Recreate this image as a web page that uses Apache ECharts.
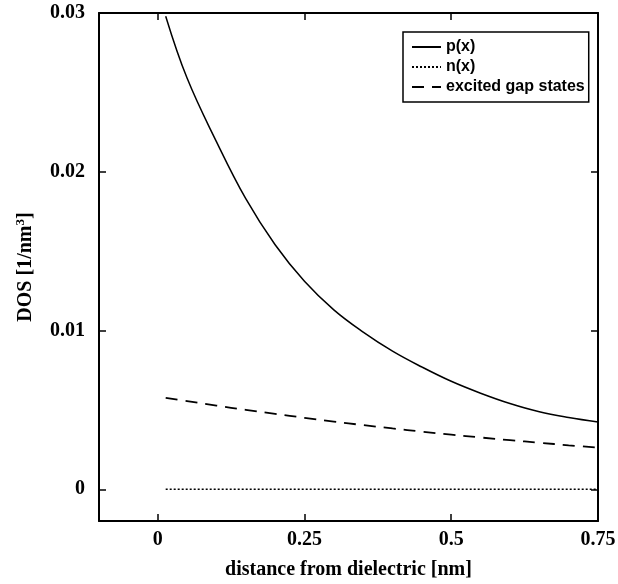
<!DOCTYPE html>
<html>
<head>
<meta charset="utf-8">
<script src="https://cdn.jsdelivr.net/npm/echarts@6/dist/echarts.min.js"></script>
<style>html,body{margin:0;padding:0;background:#fff;}#c{width:618px;height:584px;}</style>
</head>
<body>
<div id="c"></div>
<script>
var xs = [0.0136, 0.05, 0.1, 0.15, 0.2, 0.25, 0.3, 0.35, 0.4, 0.45, 0.5, 0.55, 0.6, 0.65, 0.7, 0.75];
var pVals = [0.0298, 0.0259, 0.0219, 0.0183, 0.0154, 0.0131, 0.0113, 0.0099, 0.0087, 0.0077, 0.0068, 0.00605, 0.0054, 0.00488, 0.00452, 0.00424];
var nVals = [0, 0, 0, 0, 0, 0, 0, 0, 0, 0, 0, 0, 0, 0, 0, 0];
var gapVals = [0.00575, 0.00555, 0.00527, 0.00500, 0.00475, 0.00450, 0.00426, 0.00404, 0.00383, 0.00363, 0.00344, 0.00326, 0.00309, 0.00293, 0.00277, 0.00262];
var seriesNames = ['p(x)', 'n(x)', 'excited gap states'];
var xTicks = [0, 0.25, 0.5, 0.75];
var yTicks = [0, 0.01, 0.02, 0.03];

function pairs(ys) { return xs.map(function (x, i) { return [x, ys[i]]; }); }

var serif = 'Liberation Serif';
var axisLineStyle = { color: '#000', width: 2 };
var chart = echarts.init(document.getElementById('c'), null, { renderer: 'canvas' });
chart.setOption({
  animation: false,
  backgroundColor: '#fff',
  grid: { left: 99, right: 20, top: 13, bottom: 63, containLabel: false, outerBoundsMode: 'none' },
  legend: {
    orient: 'vertical', left: 403, top: 32,
    padding: [7, 4, 7, 8], itemGap: 4, itemWidth: 29, itemHeight: 14,
    borderColor: '#000', borderWidth: 1.5, backgroundColor: '#fff',
    itemStyle: { color: 'rgba(0,0,0,0)', borderWidth: 0, opacity: 0 },
    textStyle: { fontFamily: 'Liberation Sans', fontSize: 16, lineHeight: 16, fontWeight: 'bold', color: '#000' },
    data: seriesNames
  },
  xAxis: [{
    type: 'value', position: 'bottom', min: -0.1, max: 0.75,
    name: 'distance from dielectric [nm]', nameLocation: 'middle', nameGap: 39,
    nameTextStyle: { fontFamily: serif, fontSize: 20, fontWeight: 'bold', color: '#000' },
    axisLine: { show: true, onZero: false, lineStyle: axisLineStyle },
    axisTick: { show: true, inside: true, length: 7, customValues: xTicks, lineStyle: { color: '#000', width: 1.5 } },
    axisLabel: { show: true, customValues: xTicks, margin: 9, fontFamily: serif, fontSize: 20, fontWeight: 'bold', color: '#000' },
    splitLine: { show: false }
  }, {
    type: 'value', position: 'top', min: -0.1, max: 0.75,
    axisLine: { show: true, onZero: false, lineStyle: axisLineStyle },
    axisTick: { show: true, inside: true, length: 7, customValues: xTicks, lineStyle: { color: '#000', width: 1.5 } },
    axisLabel: { show: false },
    splitLine: { show: false }
  }],
  yAxis: [{
    type: 'value', position: 'left', min: -0.002, max: 0.03,
    name: 'DOS [1/nm{sup|3}]', nameLocation: 'middle', nameGap: 62, nameRotate: 90,
    nameTextStyle: { fontFamily: serif, fontSize: 20, fontWeight: 'bold', color: '#000',
      rich: { sup: { fontFamily: serif, fontSize: 13, fontWeight: 'bold', color: '#000', verticalAlign: 'top', padding: [0, 0, 10, 0] } } },
    axisLine: { show: true, onZero: false, lineStyle: axisLineStyle },
    axisTick: { show: true, inside: true, length: 7, customValues: yTicks, lineStyle: { color: '#000', width: 1.5 } },
    axisLabel: { show: true, customValues: yTicks, margin: 14, fontFamily: serif, fontSize: 20, fontWeight: 'bold', color: '#000' },
    splitLine: { show: false }
  }, {
    type: 'value', position: 'right', min: -0.002, max: 0.03,
    axisLine: { show: true, onZero: false, lineStyle: axisLineStyle },
    axisTick: { show: true, inside: true, length: 7, customValues: yTicks, lineStyle: { color: '#000', width: 1.5 } },
    axisLabel: { show: false },
    splitLine: { show: false }
  }],
  series: [{
    name: seriesNames[0], type: 'line', data: pairs(pVals), smooth: 0.4, showSymbol: false, symbol: 'none',
    lineStyle: { color: '#000', width: 1.5, type: 'solid' }, itemStyle: { color: '#000' }
  }, {
    name: seriesNames[1], type: 'line', data: pairs(nVals), smooth: false, showSymbol: false, symbol: 'none',
    lineStyle: { color: '#000', width: 1.5, type: [2, 2] }, itemStyle: { color: '#000' }
  }, {
    name: seriesNames[2], type: 'line', data: pairs(gapVals), smooth: 0.4, showSymbol: false, symbol: 'none',
    lineStyle: { color: '#000', width: 1.8, type: [12, 8] }, itemStyle: { color: '#000' }
  }]
});
</script>
</body>
</html>
